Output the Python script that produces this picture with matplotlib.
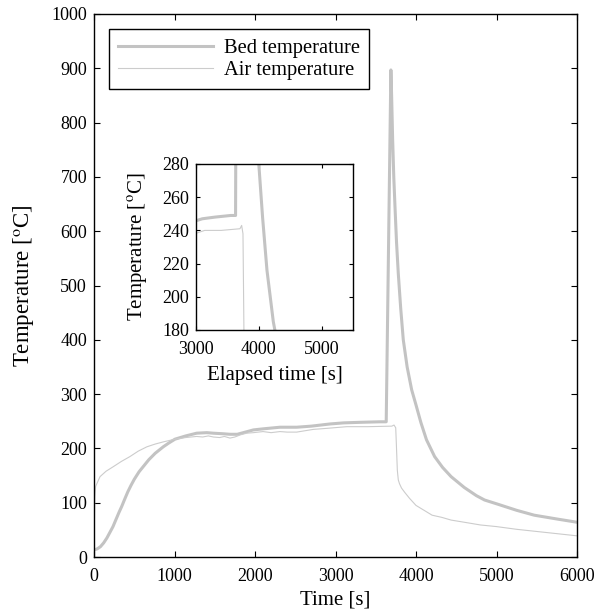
import numpy as np
import matplotlib.pyplot as plt

plt.rcParams['font.family'] = ['Liberation Serif', 'DejaVu Serif']
plt.rcParams['mathtext.fontset'] = 'stix'
plt.rcParams['font.size'] = 13

# bed temperature (thick line)
t_bed = [0, 40, 80, 120, 160, 200, 236, 270, 310, 344, 380, 420, 460, 500, 560,
         620, 680, 760, 861, 930, 1006, 1140, 1275, 1400, 1482, 1600, 1689, 1780,
         1880, 1979, 2100, 2310, 2517, 2700, 2932, 3100, 3300, 3553, 3630, 3688,
         3697, 3710, 3724, 3739, 3758, 3780, 3810, 3842, 3890, 3946, 4000, 4060,
         4130, 4231, 4330, 4436, 4600, 4750, 4851, 5000, 5250, 5469, 5750, 6000]
T_bed = [13, 15, 19, 26, 35, 46, 56, 68, 82, 93, 106, 120, 132, 143, 157,
         168, 179, 191, 203, 210, 217, 223, 228, 229, 228, 227, 226, 226,
         230, 234, 236, 239, 239, 241, 245, 247, 248, 249, 249, 897,
         850, 768, 700, 645, 580, 522, 458, 400, 350, 308, 280, 248,
         216, 185, 165, 148, 128, 113, 105, 98, 86, 77, 70, 64]

# air temperature (thin line)
t_air = [0, 10, 20, 75, 150, 236, 340, 447, 550, 658, 760, 861, 1006, 1140, 1275,
         1350, 1420, 1482, 1560, 1620, 1689, 1750, 1820, 1896, 1980, 2100, 2200,
         2310, 2400, 2517, 2600, 2724, 2900, 3139, 3400, 3700, 3727, 3748, 3758,
         3768, 3780, 3795, 3820, 3860, 3920, 4000, 4100, 4200, 4320, 4436, 4600,
         4800, 5000, 5250, 5500, 5750, 6000]
T_air = [20, 110, 130, 148, 158, 166, 176, 185, 195, 203, 208, 212, 217, 220, 222,
         221, 223, 221, 220, 222, 219, 221, 225, 228, 229, 231, 229,
         231, 230, 230, 232, 235, 237, 240, 240, 241, 243, 238, 200,
         160, 142, 135, 127, 119, 108, 95, 86, 77, 73, 68, 64,
         59, 56, 51, 47, 43, 39]

bed_color = '#c3c3c3'
air_color = '#cccccc'
ylab = 'Temperature [$^{\\mathrm{o}}$C]'

fig = plt.figure(figsize=(6.05, 6.14), dpi=100)
ax = fig.add_axes([94/605, 57/614, 483/605, 543/614])
ax.plot(t_bed, T_bed, color=bed_color, lw=2.2, label='Bed temperature')
ax.plot(t_air, T_air, color=air_color, lw=0.8, label='Air temperature')
ax.set_xlim(0, 6000)
ax.set_ylim(0, 1000)
ax.set_xticks(np.arange(0, 6001, 1000))
ax.set_yticks(np.arange(0, 1001, 100))
ax.set_xlabel('Time [s]', fontsize=15)
ax.set_ylabel(ylab, fontsize=16.5)
ax.xaxis.set_label_coords(0.5, -0.062)
ax.yaxis.set_label_coords(-0.12, 0.5)
ax.tick_params(direction='in', top=True, right=True, length=4, width=0.8)
ax.tick_params(axis='x', pad=8)
ax.tick_params(axis='y', pad=5)
for s in ax.spines.values():
    s.set_linewidth(1.0)

leg = ax.legend(loc='upper left', bbox_to_anchor=(0.031, 0.972), borderaxespad=0,
                fontsize=14.8, handlelength=4.6, handletextpad=0.55, borderpad=0.45,
                labelspacing=0.12, fancybox=False, framealpha=1)
leg.get_frame().set_edgecolor('black')
leg.get_frame().set_linewidth(1.0)

ins = fig.add_axes([196/605, 284/614, 157/605, 166/614])
ins.plot(t_bed, T_bed, color=bed_color, lw=2.2)
ins.plot(t_air, T_air, color=air_color, lw=0.8)
ins.set_xlim(3000, 5500)
ins.set_ylim(180, 280)
ins.set_xticks([3000, 4000, 5000])
ins.set_yticks(np.arange(180, 281, 20))
ins.set_xlabel('Elapsed time [s]', fontsize=15)
ins.set_ylabel(ylab, fontsize=15)
ins.xaxis.set_label_coords(0.5, -0.215)
ins.yaxis.set_label_coords(-0.29, 0.5)
ins.tick_params(direction='in', top=True, right=True, length=3, width=0.8)
ins.tick_params(axis='x', pad=8)
ins.tick_params(axis='y', pad=5)
for s in ins.spines.values():
    s.set_linewidth(1.0)

fig.savefig('out.png', dpi=100)
